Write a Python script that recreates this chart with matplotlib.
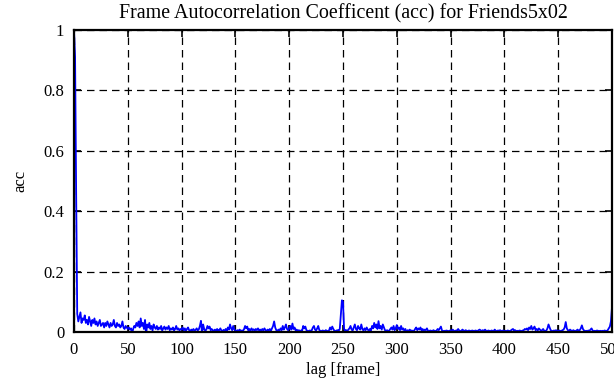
import numpy as np
import matplotlib
matplotlib.use("Agg")
import matplotlib.pyplot as plt

# autocorrelation coefficient per lag (0..500)
acc_0_99 = [
    1.0, 0.91, 0.46, 0.06, 0.035, 0.05, 0.065, 0.03, 0.045, 0.04,
    0.055, 0.03, 0.04, 0.025, 0.05, 0.035, 0.02, 0.04, 0.03, 0.045,
    0.025, 0.035, 0.02, 0.03, 0.04, 0.02, 0.025, 0.03, 0.015, 0.03,
    0.02, 0.035, 0.025, 0.015, 0.03, 0.02, 0.025, 0.04, 0.02, 0.015,
    0.03, 0.02, 0.025, 0.015, 0.02, 0.035, 0.015, 0.01, 0.02, 0.015,
    0.01, 0.015, 0.008, 0.012, -0.005, 0.01, 0.02, 0.015, 0.03, 0.02,
    0.035, 0.015, 0.045, 0.02, 0.03, 0.01, 0.04, -0.008, 0.025, 0.015,
    0.03, 0.01, 0.02, 0.005, 0.025, 0.015, 0.01, 0.02, 0.008, 0.015,
    0.01, 0.02, 0.005, 0.012, 0.018, 0.008, 0.015, 0.01, 0.02, 0.006,
    0.012, 0.008, 0.015, 0.005, 0.01, 0.02, 0.008, 0.012, 0.005, 0.01,
]
acc_100_199 = [
    0.008, 0.015, 0.005, 0.012, 0.004, 0.01, 0.015, 0.006, 0.003, 0.008,
    0.005, 0.01, 0.004, 0.007, 0.012, 0.005, 0.009, 0.02, 0.037, -0.006,
    0.025, 0.01, 0.004, 0.008, 0.02, 0.012, 0.018, 0.006, 0.01, 0.004,
    0.005, 0.008, 0.003, 0.01, 0.004, 0.006, 0.012, 0.005, 0.003, 0.007,
    0.004, 0.01, 0.003, 0.015, 0.008, 0.025, 0.012, 0.006, 0.02, 0.008,
    0.005, 0.003, 0.006, 0.004, 0.008, 0.003, 0.005, 0.004, 0.009, 0.02,
    0.012, 0.018, 0.005, 0.01, 0.004, 0.012, 0.006, 0.009, 0.004, 0.01,
    0.006, 0.012, 0.005, 0.008, 0.004, 0.01, 0.005, 0.012, 0.006, 0.004,
    0.008, 0.005, 0.01, 0.004, 0.012, 0.02, 0.035, 0.015, 0.006, 0.004,
    0.008, 0.005, 0.012, 0.006, 0.02, 0.008, 0.015, 0.025, 0.01, 0.006,
]
acc_200_299 = [
    0.012, 0.02, 0.008, 0.028, 0.01, 0.015, 0.005, 0.008, 0.004, 0.006,
    0.003, 0.005, 0.004, 0.02, 0.012, 0.018, 0.006, 0.004, 0.003, 0.005,
    0.004, 0.006, 0.015, 0.02, 0.008, 0.005, 0.012, 0.02, 0.006, 0.004,
    0.003, 0.005, 0.004, 0.003, 0.006, 0.004, 0.003, 0.005, 0.015, 0.008,
    0.018, 0.01, 0.004, 0.003, 0.005, 0.006, 0.004, 0.01, 0.06, 0.105,
    0.1, 0.01, 0.004, 0.006, 0.003, 0.008, 0.012, 0.02, 0.008, 0.005,
    0.015, 0.025, 0.01, 0.006, 0.02, 0.012, 0.008, 0.025, 0.01, 0.005,
    0.012, 0.006, 0.015, 0.008, 0.004, 0.01, 0.005, 0.02, 0.012, 0.03,
    0.015, 0.025, 0.01, 0.036, 0.012, 0.02, 0.008, 0.025, 0.015, 0.006,
    0.004, 0.006, 0.003, 0.005, 0.01, 0.015, 0.008, 0.02, 0.006, 0.012,
]
acc_300_399 = [
    0.023, 0.01, 0.015, 0.006, 0.02, 0.008, 0.012, 0.004, 0.01, -0.004,
    0.006, 0.003, 0.008, 0.004, 0.005, 0.003, 0.004, 0.01, 0.015, 0.006,
    0.012, 0.008, 0.015, 0.005, 0.01, 0.004, 0.008, 0.006, 0.012, 0.004,
    0.003, 0.005, 0.004, 0.003, 0.006, 0.004, 0.003, 0.005, 0.01, 0.006,
    0.012, 0.018, 0.005, 0.003, 0.004, 0.003, 0.005, 0.004, 0.003, 0.004,
    0.006, 0.003, 0.008, 0.004, 0.003, 0.005, 0.004, 0.01, 0.005, 0.003,
    0.004, 0.008, 0.005, 0.003, 0.006, 0.004, 0.003, 0.005, 0.004, 0.003,
    0.005, 0.004, 0.003, 0.005, 0.004, 0.003, 0.006, 0.008, 0.005, 0.004,
    0.006, 0.003, 0.008, 0.004, 0.003, 0.005, 0.004, 0.003, 0.005, 0.004,
    0.003, 0.008, 0.004, 0.003, 0.005, 0.004, 0.006, 0.003, 0.004, 0.005,
]
acc_400_500 = [
    0.003, 0.004, 0.003, 0.005, 0.004, 0.003, 0.005, 0.008, 0.01, 0.004,
    0.006, 0.003, 0.004, 0.003, 0.005, 0.004, 0.003, 0.005, 0.006, 0.01,
    0.008, 0.012, 0.006, 0.015, 0.01, 0.02, 0.008, 0.012, 0.018, 0.006,
    0.01, 0.005, 0.012, 0.008, 0.004, 0.006, 0.01, 0.004, 0.003, 0.005,
    0.012, 0.025, 0.015, 0.006, 0.004, 0.003, 0.005, 0.004, 0.006, 0.003,
    0.004, 0.005, 0.003, 0.004, 0.006, 0.008, 0.015, 0.033, 0.012, 0.006,
    0.004, 0.008, 0.005, 0.003, 0.006, 0.004, 0.003, 0.005, 0.008, 0.004,
    0.006, 0.012, 0.022, 0.01, 0.005, 0.003, 0.004, 0.003, 0.005, 0.004,
    0.008, 0.012, 0.005, 0.003, 0.004, 0.003, 0.005, 0.004, 0.003, 0.004,
    0.003, 0.004, 0.003, 0.005, 0.004, 0.003, 0.006, 0.012, 0.018, 0.035,
    0.082,
]

acc = acc_0_99 + acc_100_199 + acc_200_299 + acc_300_399 + acc_400_500
lags = np.arange(len(acc))

x_ticks = list(range(0, 501, 50))
y_ticks = [0, 0.2, 0.4, 0.6, 0.8, 1]
y_labels = ["0", "0.2", "0.4", "0.6", "0.8", "1"]

plt.rcParams['font.family'] = ['Liberation Serif', 'DejaVu Serif']
plt.rcParams['font.size'] = 12

fig = plt.figure(figsize=(6.14, 3.85), dpi=100)
ax = fig.add_axes([74 / 614, 1 - 332 / 385, 538 / 614, 302 / 385])

ax.plot(lags, acc, color='#0000ff', linewidth=1.3)

ax.set_xlim(0, 500)
ax.set_ylim(0, 1)
ax.set_xticks(x_ticks)
ax.set_yticks(y_ticks)
ax.set_yticklabels(y_labels)
ax.tick_params(direction='in', top=True, right=True, length=5, width=1.2, pad=7)
ax.grid(True, color='black', linestyle=(0, (6, 4)), linewidth=0.9)
for s in ax.spines.values():
    s.set_linewidth(1.6)

ax.set_title('Frame Autocorrelation Coefficent (acc) for Friends5x02', pad=8)
ax.set_xlabel('lag [frame]', labelpad=3)
ax.set_ylabel('acc', labelpad=11)

fig.savefig('out.png', dpi=100)
